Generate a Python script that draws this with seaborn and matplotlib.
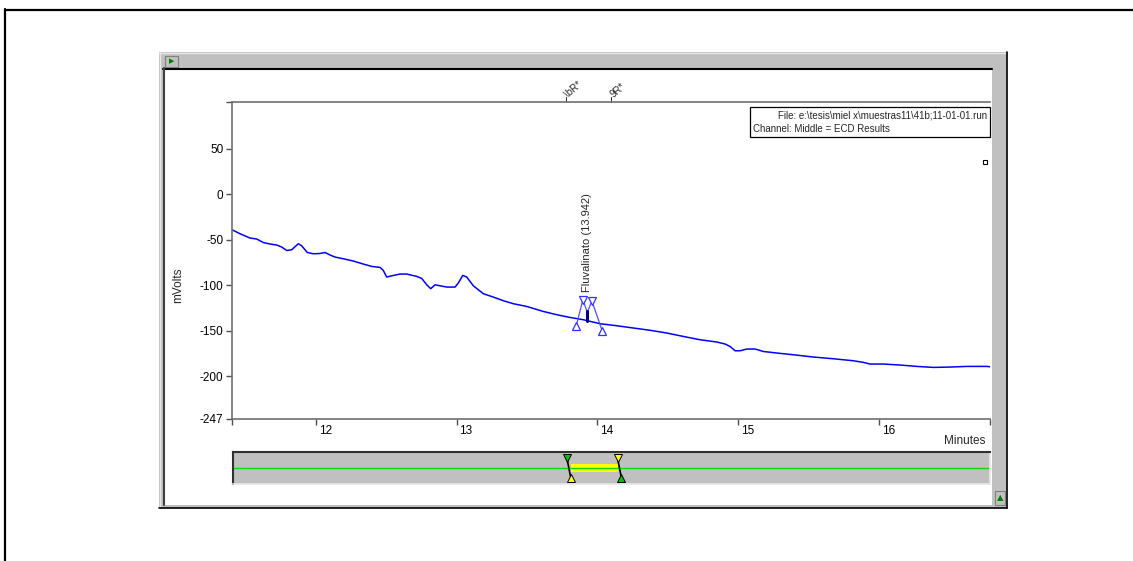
import numpy as np
import pandas as pd
import matplotlib
matplotlib.use("Agg")
import matplotlib.pyplot as plt
from matplotlib.patches import Rectangle
from matplotlib.lines import Line2D
from matplotlib.transforms import ScaledTranslation
import seaborn as sns

# ---------------- data ----------------
time_min = [11.403, 11.460, 11.531, 11.579, 11.625, 11.673, 11.721, 11.756, 11.792, 11.827,
            11.874, 11.898, 11.938, 11.981, 12.028, 12.064, 12.100, 12.135, 12.194, 12.265,
            12.336, 12.396, 12.455, 12.478, 12.502, 12.538, 12.597, 12.645, 12.716, 12.751,
            12.787, 12.815, 12.846, 12.881, 12.929, 12.988, 13.011, 13.043, 13.071, 13.118,
            13.189, 13.260, 13.331, 13.402, 13.497, 13.615, 13.711, 13.805, 13.900, 14.019,
            14.137, 14.255, 14.374, 14.492, 14.611, 14.729, 14.848, 14.907, 14.942, 14.978,
            15.014, 15.061, 15.120, 15.179, 15.274, 15.392, 15.534, 15.677, 15.819, 15.890,
            15.937, 16.032, 16.151, 16.269, 16.387, 16.506, 16.625, 16.767, 16.790]
mvolts = [-39.0, -43.4, -48.1, -49.2, -53.0, -54.7, -55.8, -58.0, -61.8, -61.0,
          -54.4, -56.6, -64.0, -65.4, -65.1, -64.0, -66.8, -69.0, -70.9, -73.4,
          -76.7, -79.3, -80.4, -83.7, -91.0, -89.6, -87.7, -87.7, -90.3, -92.5,
          -99.5, -103.8, -99.5, -100.6, -102.0, -102.0, -97.6, -89.2, -91.0, -100.6,
          -109.3, -113.0, -117.0, -120.3, -123.3, -128.8, -132.4, -135.4, -137.9, -142.3,
          -144.5, -147.0, -149.5, -152.5, -156.3, -159.9, -162.4, -164.6, -167.3, -172.0,
          -172.0, -170.1, -170.1, -172.8, -174.5, -176.4, -178.9, -180.8, -183.0, -184.8,
          -186.6, -186.6, -187.7, -189.2, -190.3, -189.9, -189.2, -189.2, -189.6]

x_range = [11.403, 16.789]
y_range = [-247.0, 101.4]
y_ticks = [50, 0, -50, -100, -150, -200, -247]
x_ticks = [12, 13, 14, 15, 16]

peak_name = "Fluvalinato"
peak_rt = 13.942
# peak marker construction: start, top-left, apex, top-right, end
peak_marker_t = [13.848, 13.896, 13.928, 13.960, 14.035]
peak_marker_v = [-145.3, -116.0, -130.0, -117.0, -150.8]
apex_bar_v = [-128.0, -139.0]

top_event_t = [13.777, 14.097]
top_event_txt = ["\\bR*", "9R*"]

window_start, window_end = 13.800, 14.160

file_line = r"File: e:\tesis\miel x\muestras11\41b;11-01-01.run"
channel_line = "Channel: Middle = ECD Results"

# ---------------- figure ----------------
sns.set_style("white")
plt.rcParams["font.family"] = ["Liberation Sans", "DejaVu Sans"]
W, H = 1133, 561
fig = plt.figure(figsize=(W / 100, H / 100), dpi=100)
fig.patch.set_facecolor("white")


def prect(x0, y0, x1, y1, z=-10, **kw):
    r = Rectangle((x0 / W, 1 - y1 / H), (x1 - x0) / W, (y1 - y0) / H,
                  transform=fig.transFigure, zorder=z, **kw)
    fig.add_artist(r)
    return r


def pline(xs, ys, z=-5, **kw):
    fig.add_artist(Line2D([x / W for x in xs], [1 - y / H for y in ys],
                          transform=fig.transFigure, zorder=z, **kw))


# outer page border
pline([5, W], [9.5, 9.5], color="black", lw=1.6)
pline([5, 5], [9, H], color="black", lw=1.6)

# window
prect(159, 52, 1007, 508, facecolor="#c0c0c0", edgecolor="none", z=-20)
pline([159, 1007], [52.5, 52.5], color="#e8e8e8", lw=1)
pline([159.5, 159.5], [52, 508], color="#e8e8e8", lw=1)
pline([159, 1007], [507.5, 507.5], color="black", lw=1.2)
pline([1006.5, 1006.5], [52, 508], color="black", lw=1.2)
prect(164, 69, 992, 505, facecolor="white", edgecolor="none", z=-15)
pline([163, 992], [68.5, 68.5], color="black", lw=1.5)
pline([163.5, 163.5], [68, 505], color="#404040", lw=1.5)
# title-bar button
prect(165, 56, 178, 67, facecolor="#c0c0c0", edgecolor="#808080", lw=0.8, z=-4)
fig.text(171.5 / W, 1 - 61.5 / H, "\u25B6", color="#008000", fontsize=5,
         ha="center", va="center", family=["DejaVu Sans"])
# bottom-right button
prect(995, 491, 1005, 505, facecolor="#c0c0c0", edgecolor="#808080", lw=0.8, z=-4)
fig.text(1000 / W, 1 - 498 / H, "\u25B2", color="#008000", fontsize=6,
         ha="center", va="center", family=["DejaVu Sans"])

# ---------------- main axes ----------------
ax = fig.add_axes([232 / W, 1 - 419 / H, (990 - 232) / W, (419 - 102) / H])
ax.set_facecolor("white")
sns.lineplot(x=time_min, y=mvolts, ax=ax, color="#0000ff", linewidth=1.1,
             estimator=None, sort=False)
ax.set_xlim(*x_range)
ax.set_ylim(*y_range)

ax.set_yticks([y_range[1]] + y_ticks)
ax.set_yticklabels([""] + [str(v) for v in y_ticks])
ax.set_xticks([x_range[0]] + x_ticks + [x_range[1]])
ax.set_xticklabels([""] + [str(v) for v in x_ticks] + [""])
ax.tick_params(axis="both", which="major", direction="out", length=4.3, width=1,
               color="#505050", labelsize=8.5, labelcolor="black",
               bottom=True, left=True, top=False, right=False)
ax.tick_params(axis="y", pad=2)
ax.tick_params(axis="x", pad=0)
for lab in ax.get_xticklabels():
    lab.set_horizontalalignment("left")
    lab.set_transform(lab.get_transform() + ScaledTranslation(2 / 72, 0, fig.dpi_scale_trans))
for side in ["left", "top", "bottom"]:
    ax.spines[side].set_color("#707070")
    ax.spines[side].set_linewidth(1.2)
ax.spines["right"].set_visible(False)
ax.set_xlabel("")
ax.set_ylabel("")
ax.grid(False)

fig.text(985 / W, 1 - 441 / H, "Minutes", ha="right", va="center", fontsize=8.5)
fig.text(178 / W, 1 - 285 / H, "mVolts", ha="center", va="center", rotation=90, fontsize=8.5)

# peak markers
ax.plot(peak_marker_t, peak_marker_v, color="#5050ff", lw=0.9)
ax.plot([peak_marker_t[0], peak_marker_t[4]], [peak_marker_v[0], peak_marker_v[4]],
        ls="none", marker="^", ms=6, mfc="white", mec="#3030ff", mew=0.9)
ax.plot([peak_marker_t[1], peak_marker_t[3]], [peak_marker_v[1], peak_marker_v[3]],
        ls="none", marker="v", ms=6, mfc="white", mec="#3030ff", mew=0.9)
ax.plot([peak_marker_t[2], peak_marker_t[2]], apex_bar_v, color="#000080", lw=2.2)
ax.text(peak_marker_t[2], -107, f"{peak_name} ({peak_rt:.3f})", rotation=90,
        ha="center", va="bottom", fontsize=8)

# small square marker at right
ax.plot([16.75], [36], ls="none", marker="s", ms=3.5, mfc="white", mec="black", mew=0.8)

# top event labels
for t, s in zip(top_event_t, top_event_txt):
    ax.plot([t, t], [y_range[1], y_range[1] + 5], color="black", lw=0.6, clip_on=False)
    ax.text(t - 0.02, y_range[1] + 3, s, rotation=40, fontsize=7, ha="left", va="bottom",
            clip_on=False)

# file info box
prect(750, 107, 990, 137, facecolor="white", edgecolor="black", lw=0.9, z=5)
fig.text(987 / W, 1 - 116 / H, file_line, ha="right", va="center", fontsize=7, zorder=6)
fig.text(753 / W, 1 - 128.5 / H, channel_line, ha="left", va="center", fontsize=7, zorder=6)

# ---------------- navigation strip ----------------
nav = fig.add_axes([233 / W, 1 - 484 / H, (990 - 233) / W, (484 - 452) / H])
nav.set_facecolor("#c0c0c0")
nav.set_xlim(*x_range)
nav.set_ylim(0, 1)
nav.set_xticks([])
nav.set_yticks([])
for side in ["top", "left"]:
    nav.spines[side].set_color("#303030")
    nav.spines[side].set_linewidth(1.5)
for side in ["bottom", "right"]:
    nav.spines[side].set_color("#e8e8e8")
    nav.spines[side].set_linewidth(1.2)
nav.axhline(0.5, color="#00e000", lw=1)
nav.fill_between([window_start + 0.01, window_end - 0.02], 0.36, 0.64, color="#ffff00", lw=0)
for t, top_c, bot_c in [(window_start, "#00c000", "#ffff00"), (window_end, "#ffff00", "#00c000")]:
    nav.plot([t - 0.02, t + 0.005], [0.78, 0.22], color="black", lw=1.2)
    nav.plot([t - 0.02], [0.8], ls="none", marker="v", ms=5.5, mfc=top_c, mec="black", mew=0.7)
    nav.plot([t + 0.005], [0.2], ls="none", marker="^", ms=5.5, mfc=bot_c, mec="black", mew=0.7)

fig.savefig("out.png", dpi=100, facecolor="white")
